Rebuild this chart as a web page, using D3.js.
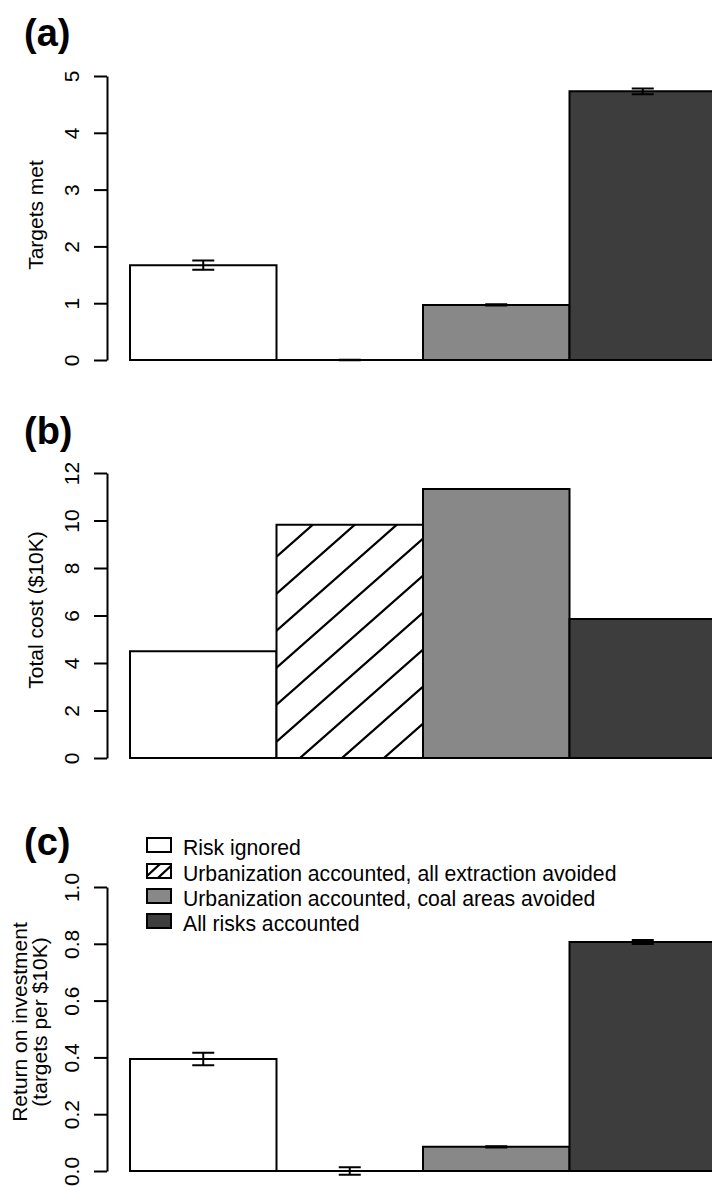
<!DOCTYPE html>
<html>
<head>
<meta charset="utf-8">
<script src="https://cdn.jsdelivr.net/npm/d3@7"></script>
<style>
  html, body { margin: 0; padding: 0; background: #fff; }
  svg { display: block; font-family: "Liberation Sans", Arial, Helvetica, sans-serif; }
</style>
</head>
<body>
<svg id="chart" width="712" height="1187"></svg>
<script>
// ---- data ----
const categories = [
  "Risk ignored",
  "Urbanization accounted, all extraction avoided",
  "Urbanization accounted, coal areas avoided",
  "All risks accounted"
];
const targetsMet      = [1.67, 0.0, 0.97, 4.73];
const targetsMetErr   = [0.08, 0.004, 0.01, 0.05];
const totalCost       = [4.5, 9.82, 11.33, 5.85];
const roi             = [0.394, 0.0, 0.085, 0.806];
const roiErr          = [0.022, 0.013, 0.002, 0.007];
const ticksA = [0, 1, 2, 3, 4, 5];
const ticksB = [0, 2, 4, 6, 8, 10, 12];
const ticksC = [0, 0.2, 0.4, 0.6, 0.8, 1.0];
const fills  = ["#ffffff", "url(#hatch)", "#888888", "#3d3d3d"];

// ---- drawing ----
const svg = d3.select("#chart");
const defs = svg.append("defs");

function hatchPattern(id, w, h, x, y, sw) {
  const p = defs.append("pattern")
    .attr("id", id).attr("patternUnits", "userSpaceOnUse")
    .attr("width", w).attr("height", h).attr("x", x).attr("y", y);
  p.append("rect").attr("width", w).attr("height", h).attr("fill", "#fff");
  const ex = w * 0.15, ey = h * 0.15;
  p.append("path")
    .attr("d", `M${-ex},${h + ey} L${w + ex},${-ey} M${-ex},${ey} L${ex},${-ey} M${w - ex},${h + ey} L${w + ex},${h - ey}`)
    .attr("stroke", "#000").attr("stroke-width", 2.2).attr("fill", "none");
}
hatchPattern("hatch", 42, 37, 300, 721);
hatchPattern("hatchLegend", 13, 12, 147, 852);

const x = d3.scaleBand().domain(categories).range([130, 716]).padding(0);
const FS = 21;

function panel(opts) {
  const y = d3.scaleLinear().domain(opts.domain).range(opts.range);
  const g = svg.append("g");

  // bars (paths so zero-height bars still show their outline)
  g.selectAll("path.bar").data(categories).join("path")
    .attr("class", "bar")
    .attr("d", (d, i) => {
      const x0 = x(d), x1 = x(d) + x.bandwidth();
      const y0 = y(0), y1 = y(opts.values[i]);
      return `M${x0},${y0} L${x1},${y0} L${x1},${y1} L${x0},${y1} Z`;
    })
    .attr("fill", (d, i) => fills[i])
    .attr("stroke", "#000")
    .attr("stroke-width", 2);

  // error bars
  if (opts.errors) {
    const cap = 11;
    g.selectAll("path.err").data(categories).join("path")
      .attr("class", "err")
      .attr("d", (d, i) => {
        const cx = x(d) + x.bandwidth() / 2;
        const lo = y(opts.values[i] - opts.errors[i]);
        const hi = y(opts.values[i] + opts.errors[i]);
        return `M${cx},${lo} L${cx},${hi} M${cx - cap},${lo} L${cx + cap},${lo} M${cx - cap},${hi} L${cx + cap},${hi}`;
      })
      .attr("stroke", "#000").attr("stroke-width", 2).attr("fill", "none");
  }

  // axis
  const axis = d3.axisLeft(y).tickValues(opts.ticks).tickSize(13).tickSizeOuter(0)
    .tickFormat(opts.format);
  const ag = g.append("g").attr("transform", "translate(107,0)").call(axis);
  ag.select(".domain").attr("stroke-width", 2);
  ag.selectAll(".tick line").attr("stroke-width", 2);
  ag.selectAll(".tick text")
    .attr("x", null).attr("dy", null)
    .attr("transform", "translate(-28,0) rotate(-90)")
    .attr("text-anchor", "middle")
    .attr("font-size", FS)
    .attr("font-family", "Liberation Sans, Arial, sans-serif")
    .attr("fill", "#000");

  // axis title
  opts.title.forEach((t, k) => {
    g.append("text")
      .attr("transform", `translate(${opts.titleX[k]},${opts.titleY}) rotate(-90)`)
      .attr("text-anchor", "middle")
      .attr("font-size", FS)
      .text(t);
  });

  // panel label
  g.append("text")
    .attr("x", 24).attr("y", opts.labelY)
    .attr("font-size", 38).attr("font-weight", "bold")
    .text(opts.label);
}

panel({
  values: targetsMet, errors: targetsMetErr, domain: [0, 5], range: [360, 76],
  ticks: ticksA, format: d3.format("d"),
  title: ["Targets met"], titleX: [43], titleY: 215, label: "(a)", labelY: 46
});
panel({
  values: totalCost, errors: null, domain: [0, 12], range: [758, 473],
  ticks: ticksB, format: d3.format("d"),
  title: ["Total cost ($10K)"], titleX: [43], titleY: 610, label: "(b)", labelY: 444
});
panel({
  values: roi, errors: roiErr, domain: [0, 1], range: [1171, 887],
  ticks: ticksC, format: d3.format(".1f"),
  title: ["Return on investment", "(targets per $10K)"], titleX: [27, 47], titleY: 1022,
  label: "(c)", labelY: 855
});

// legend
const lg = svg.append("g");
const rowY = [855, 881, 906, 931];
categories.forEach((c, i) => {
  lg.append("rect")
    .attr("x", 147).attr("y", rowY[i] - 17)
    .attr("width", 24).attr("height", 14)
    .attr("fill", fills[i] === "url(#hatch)" ? "url(#hatchLegend)" : fills[i])
    .attr("stroke", "#000").attr("stroke-width", 2);
  lg.append("text")
    .attr("x", 183).attr("y", rowY[i])
    .attr("font-size", 21.2)
    .text(c);
});
</script>
</body>
</html>
